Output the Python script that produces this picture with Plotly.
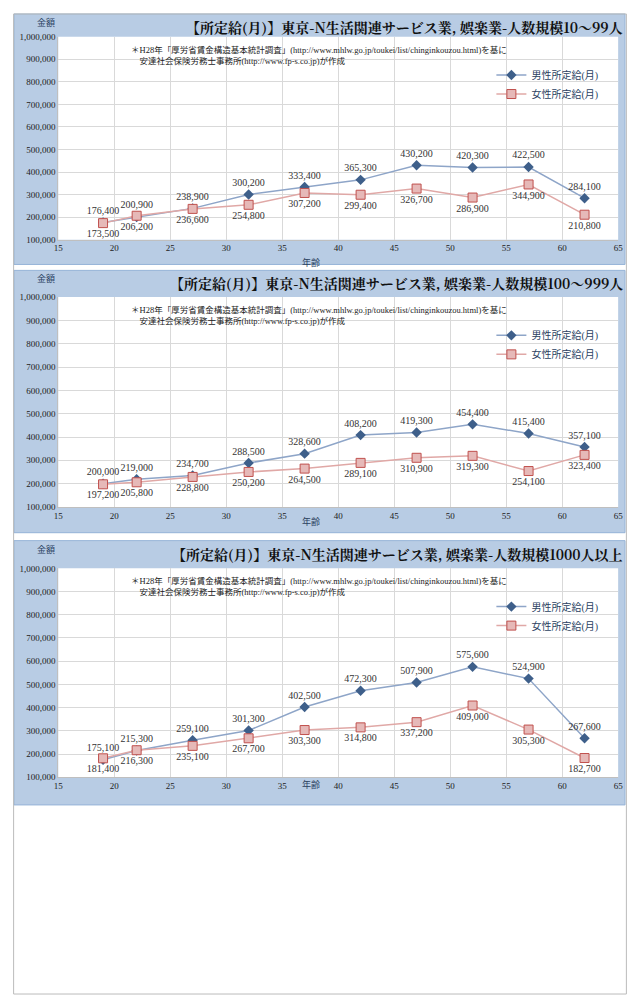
import plotly.graph_objects as go

ages = [19, 22, 27, 32, 37, 42, 47, 52, 57, 62]

titles = [
    "【所定給(月)】東京-N生活関連サービス業, 娯楽業-人数規模10～99人",
    "【所定給(月)】東京-N生活関連サービス業, 娯楽業-人数規模100～999人",
    "【所定給(月)】東京-N生活関連サービス業, 娯楽業-人数規模1000人以上",
]
male_1 = [176400, 200900, 238900, 300200, 333400, 365300, 430200, 420300, 422500, 284100]
female_1 = [173500, 206200, 236600, 254800, 307200, 299400, 326700, 286900, 344900, 210800]
male_2 = [200000, 219000, 234700, 288500, 328600, 408200, 419300, 454400, 415400, 357100]
female_2 = [197200, 205800, 228800, 250200, 264500, 289100, 310900, 319300, 254100, 323400]
male_3 = [175100, 215300, 259100, 301300, 402500, 472300, 507900, 575600, 524900, 267600]
female_3 = [181400, 216300, 235100, 267700, 303300, 314800, 337200, 409000, 305300, 182700]
males = [male_1, male_2, male_3]
females = [female_1, female_2, female_3]

note = ("＊H28年「厚労省賃金構造基本統計調査」(http://www.mhlw.go.jp/toukei/list/chinginkouzou.html)を基に<br>"
        "　安達社会保険労務士事務所(http://www.fp-s.co.jp)が作成")

# the page is drawn with an offset of about 12px, so work in shifted pixels
O = 12
W, H = 624, 992
def px(p):
    return (p - O) / W
def py(p):
    return 1 - (p - O) / H

# panel background box (top, bottom) and plot area (top, bottom) in page pixels
panels = [((13, 266), (36, 241)), ((272, 537), (299, 511)), ((545, 812), (573, 784))]
x0, x1 = px(58), px(627)
font = "Liberation Serif, Noto Sans CJK JP, serif"

fig = go.Figure()
shapes, annotations = [], []
for i, ((bt, bb), (pt, pb)) in enumerate(panels):
    n = "" if i == 0 else str(i + 1)
    xa, ya = "x" + n, "y" + n
    leg = "legend" + n
    fig.add_trace(go.Scatter(
        x=ages, y=males[i], name="男性所定給(月)", mode="lines+markers+text",
        xaxis=xa, yaxis=ya, legend=leg,
        line=dict(color="#8EA5C8", width=1.5),
        marker=dict(symbol="diamond", size=8, color="#3E5F8A"),
        text=[f"{v:,}" for v in males[i]], textposition="top center",
        textfont=dict(size=10, color="#333", family=font),
    ))
    fig.add_trace(go.Scatter(
        x=ages, y=females[i], name="女性所定給(月)", mode="lines+markers+text",
        xaxis=xa, yaxis=ya, legend=leg,
        line=dict(color="#E0A8A6", width=1.5),
        marker=dict(symbol="square", size=9, color="#E6B9B8",
                    line=dict(color="#C0504D", width=1)),
        text=[f"{v:,}" for v in females[i]], textposition="bottom center",
        textfont=dict(size=10, color="#333", family=font),
    ))
    axis_common = dict(showgrid=True, gridcolor="#D9D9D9", zeroline=False,
                       showline=True, linecolor="#BFBFBF",
                       tickfont=dict(size=9, family=font, color="#222"))
    fig.layout["xaxis" + n] = dict(axis_common, domain=[x0, x1], anchor=ya,
                                   range=[15, 65], dtick=5)
    fig.layout["yaxis" + n] = dict(axis_common, domain=[py(pb), py(pt)], anchor=xa,
                                   range=[100000, 1000000], dtick=100000,
                                   tickformat=",")
    fig.layout[leg] = dict(x=px(612), y=py(pt + 24), xanchor="right", yanchor="top",
                           bgcolor="rgba(0,0,0,0)", font=dict(size=10, family=font))
    shapes.append(dict(type="rect", xref="paper", yref="paper", x0=px(13), x1=px(634),
                       y0=py(bb), y1=py(bt), fillcolor="#B8CCE4",
                       line=dict(color="#95B3D7", width=1), layer="below"))
    shapes.append(dict(type="rect", xref="paper", yref="paper", x0=x0, x1=x1,
                       y0=py(pb), y1=py(pt), fillcolor="white", line_width=0,
                       layer="below"))
    annotations += [
        dict(text="<b>" + titles[i] + "</b>", x=px(634), y=py(bt + 1), xref="paper",
             yref="paper", xanchor="right", yanchor="top", showarrow=False,
             font=dict(size=14, family="Noto Serif CJK JP, Noto Sans CJK JP", color="#111")),
        dict(text="金額", x=px(34), y=py(bt + 1), xref="paper", yref="paper",
             yanchor="top", showarrow=False, font=dict(size=9, family=font)),
        dict(text="年齢", x=px(315), y=py(pb + 15), xref="paper", yref="paper",
             showarrow=False, font=dict(size=9, family=font)),
        dict(text=note, x=px(130), y=py(pt + 6), xref="paper", yref="paper",
             xanchor="left", yanchor="top", align="left", showarrow=False,
             font=dict(size=8.5, family=font, color="#222")),
    ]

shapes.append(dict(type="rect", xref="paper", yref="paper", x0=0.001, x1=0.999,
                   y0=0.001, y1=0.999, line=dict(color="#BBBBBB", width=1), layer="below"))
fig.update_layout(width=W, height=H, margin=dict(l=0, r=0, t=0, b=0),
                  paper_bgcolor="white", plot_bgcolor="rgba(0,0,0,0)",
                  shapes=shapes, annotations=annotations, showlegend=True)
fig.write_html("out.html")
